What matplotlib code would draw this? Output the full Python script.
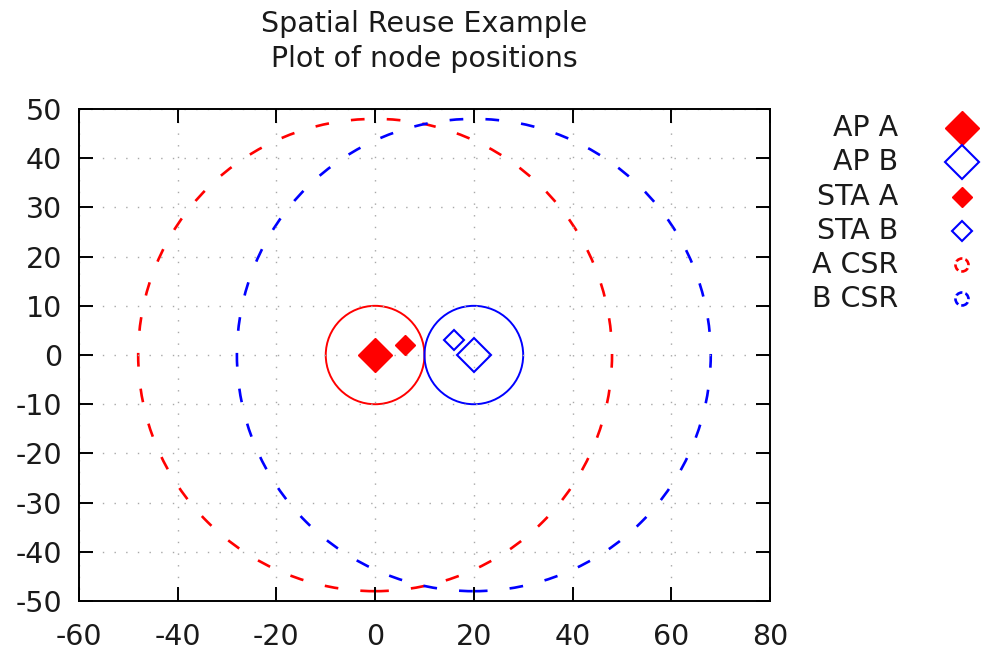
import matplotlib
matplotlib.use("Agg")
import matplotlib.pyplot as plt
from matplotlib.patches import Circle
from matplotlib.lines import Line2D

# node positions (m)
ap_a = (0, 0)
ap_b = (20, 0)
sta_a = (6, 2)
sta_b = (16, 3)

# radii (m)
bss_radius = 10
csr_radius = 48

labels = ["AP A", "AP B", "STA A", "STA B", "A CSR", "B CSR"]

red = "#ff0000"
blue = "#0000ff"

fs = 20.5
plt.rcParams["font.family"] = "DejaVu Sans"
plt.rcParams["font.size"] = fs
plt.rcParams["axes.unicode_minus"] = False
plt.rcParams["text.color"] = "#1a1a1a"
plt.rcParams["xtick.labelcolor"] = "#1a1a1a"
plt.rcParams["ytick.labelcolor"] = "#1a1a1a"

W, H = 9.82, 6.56
fig = plt.figure(figsize=(W, H), dpi=100)
ax = fig.add_axes([0.0804, 0.0838, 0.7037, 0.7500])

csr_ls = (0, (5.2, 8.4))

# carrier sense range circles
ax.add_patch(Circle(ap_a, csr_radius, fill=False, ec=red, lw=1.9, ls=csr_ls))
ax.add_patch(Circle(ap_b, csr_radius, fill=False, ec=blue, lw=1.9, ls=csr_ls))
# bss circles
ax.add_patch(Circle(ap_a, bss_radius, fill=False, ec=red, lw=1.4))
ax.add_patch(Circle(ap_b, bss_radius, fill=False, ec=blue, lw=1.4))

big, small = 17, 10
ax.plot(*ap_a, marker="D", ms=big, color=red, ls="none", zorder=5)
ax.plot(*ap_b, marker="D", ms=big, mfc="none", mec=blue, mew=1.5, ls="none", zorder=5)
ax.plot(*sta_a, marker="D", ms=small, color=red, ls="none", zorder=5)
ax.plot(*sta_b, marker="D", ms=small, mfc="none", mec=blue, mew=1.5, ls="none", zorder=5)

ax.set_xlim(-60, 80)
ax.set_ylim(-50, 50)
ax.set_xticks(range(-60, 81, 20))
ax.set_yticks(range(-50, 51, 10))
ax.grid(True, color="#a8a8a8", ls=(0, (1, 7.4)), lw=1.0)
ax.tick_params(direction="in", length=10, width=1.4, top=True, right=True, color="black")
ax.tick_params(axis="x", pad=16)
ax.tick_params(axis="y", pad=12)
for s in ax.spines.values():
    s.set_linewidth(1.4)

ax.set_title("Spatial Reuse Example\nPlot of node positions", fontsize=fs, pad=30,
             linespacing=1.35)

# key, drawn in pixel space to the right of the axes
key_text_x = 898
key_mark_x = 962
row_y = [128, 162, 197, 231, 265, 299]
key_style = [
    dict(marker="D", ms=big, color=red),
    dict(marker="D", ms=big, mfc="none", mec=blue, mew=1.5),
    dict(marker="D", ms=small, color=red),
    dict(marker="D", ms=small, mfc="none", mec=blue, mew=1.5),
    None,
    None,
]
key_circle = [None, None, None, None, red, blue]
for lab, y, st, cc in zip(labels, row_y, key_style, key_circle):
    xi, yi = key_mark_x / 100, (656 - y) / 100
    fig.text(key_text_x / 982, (656 - y) / 656, lab, ha="right", va="center", fontsize=fs)
    if st is not None:
        fig.add_artist(Line2D([xi], [yi], ls="none", transform=fig.dpi_scale_trans, **st))
    else:
        fig.add_artist(Circle((xi, yi), 0.065, fill=False, ec=cc, lw=1.9,
                              ls=(0, (2.6, 1.2)), transform=fig.dpi_scale_trans))

fig.savefig("out.png", dpi=100)
